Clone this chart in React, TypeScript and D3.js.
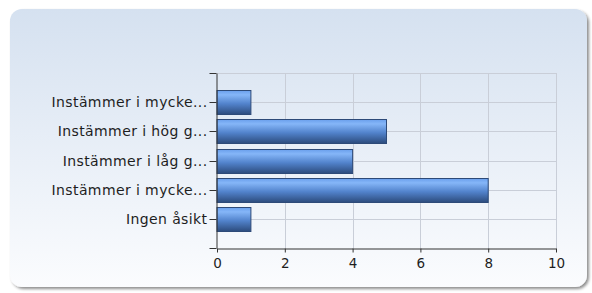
import React, { useEffect, useRef } from "react";
import { select, scaleLinear, axisBottom, axisLeft } from "d3";

const categories = [
  "Instämmer i mycke...",
  "Instämmer i hög g...",
  "Instämmer i låg g...",
  "Instämmer i mycke...",
  "Ingen åsikt",
];
const counts = [1, 5, 4, 8, 1];
const xTicks = [0, 2, 4, 6, 8, 10];

const W = 592;
const H = 293;
const plot = { left: 217, right: 556, top: 73, bottom: 248 };

const App = () => {
  const svgRef = useRef<SVGSVGElement>(null);

  useEffect(() => {
    const svg = select(svgRef.current!);
    svg.selectAll(".chart").remove();
    const g = svg.append("g").attr("class", "chart");

    const x = scaleLinear().domain([0, 10]).range([plot.left, plot.right]);
    // categories sit on the inner gridlines, one empty step above and below
    const y = scaleLinear().domain([0, categories.length + 1]).range([plot.top, plot.bottom]);
    const barH = 24;

    // grid
    g.selectAll(".vgrid")
      .data(xTicks.slice(1))
      .join("line")
      .attr("x1", (d) => Math.round(x(d)) + 0.5)
      .attr("x2", (d) => Math.round(x(d)) + 0.5)
      .attr("y1", plot.top)
      .attr("y2", plot.bottom)
      .attr("stroke", "#c9ced8")
      .attr("stroke-width", 1);
    const rows = Array.from({ length: categories.length + 1 }, (_, i) => i);
    g.selectAll(".hgrid")
      .data(rows)
      .join("line")
      .attr("x1", plot.left)
      .attr("x2", plot.right)
      .attr("y1", (d) => Math.round(y(d)) + 0.5)
      .attr("y2", (d) => Math.round(y(d)) + 0.5)
      .attr("stroke", "#c9ced8")
      .attr("stroke-width", 1);

    // bars
    g.selectAll(".bar")
      .data(counts)
      .join("rect")
      .attr("x", x(0))
      .attr("y", (_, i) => Math.round(y(i + 1)) - barH / 2 + 0.5)
      .attr("width", (d) => x(d) - x(0))
      .attr("height", barH)
      .attr("fill", "url(#barGrad)")
      .attr("stroke", "#2d4a78")
      .attr("stroke-width", 1);

    // x axis
    const xAxis = axisBottom(x).tickValues(xTicks).tickSize(4).tickPadding(6).tickSizeOuter(0);
    const gx = g
      .append("g")
      .attr("transform", `translate(0, ${Math.round(plot.bottom) + 0.5})`)
      .call(xAxis as any);
    gx.select(".domain").attr("stroke", "#333");
    gx.selectAll(".tick line").attr("stroke", "#333");
    gx.selectAll(".tick text")
      .attr("fill", "#1e1e1e")
      .attr("font-size", 13.5)
      .attr("font-family", "Verdana, 'DejaVu Sans', sans-serif");

    // y axis
    const yAxis = axisLeft(y)
      .tickValues(rows.concat([categories.length + 1]))
      .tickFormat((d: any) => (d >= 1 && d <= categories.length ? categories[d - 1] : ""))
      .tickSize(7)
      .tickPadding(2)
      .tickSizeOuter(0);
    const gy = g
      .append("g")
      .attr("transform", `translate(${plot.left - 0.5}, 0)`)
      .call(yAxis as any);
    gy.select(".domain").attr("stroke", "#333");
    gy.selectAll(".tick")
      .attr("transform", (d: any) => `translate(0, ${Math.round(y(d)) + 0.5})`);
    gy.selectAll(".tick line").attr("stroke", "#333");
    gy.selectAll(".tick text")
      .attr("fill", "#1e1e1e")
      .attr("font-size", 14)
      .attr("letter-spacing", 0.4)
      .attr("font-family", "Verdana, 'DejaVu Sans', sans-serif");
  }, []);

  return (
    <svg
      ref={svgRef}
      width={W}
      height={H}
      style={{ position: "absolute", left: 0, top: 0 }}
    >
      <defs>
        <linearGradient id="panelGrad" x1="0" y1="0" x2="0" y2="1">
          <stop offset="0%" stopColor="#d5e1f0" />
          <stop offset="100%" stopColor="#fbfcfe" />
        </linearGradient>
        <linearGradient id="barGrad" x1="0" y1="0" x2="0" y2="1">
          <stop offset="0%" stopColor="#6a9fec" />
          <stop offset="18%" stopColor="#85b6f8" />
          <stop offset="55%" stopColor="#5283cc" />
          <stop offset="100%" stopColor="#2c4b7c" />
        </linearGradient>
        <filter id="shadow" x="-5%" y="-5%" width="112%" height="115%">
          <feGaussianBlur in="SourceAlpha" stdDeviation="1.5" />
          <feOffset dx="2" dy="2" result="b" />
          <feComponentTransfer>
            <feFuncA type="linear" slope="0.45" />
          </feComponentTransfer>
          <feMerge>
            <feMergeNode />
            <feMergeNode in="SourceGraphic" />
          </feMerge>
        </filter>
      </defs>
      <rect width={W} height={H} fill="#ffffff" />
      <rect
        x={10}
        y={9}
        width={577}
        height={278}
        rx={12}
        ry={12}
        fill="url(#panelGrad)"
        filter="url(#shadow)"
      />
    </svg>
  );
};

export default App;
